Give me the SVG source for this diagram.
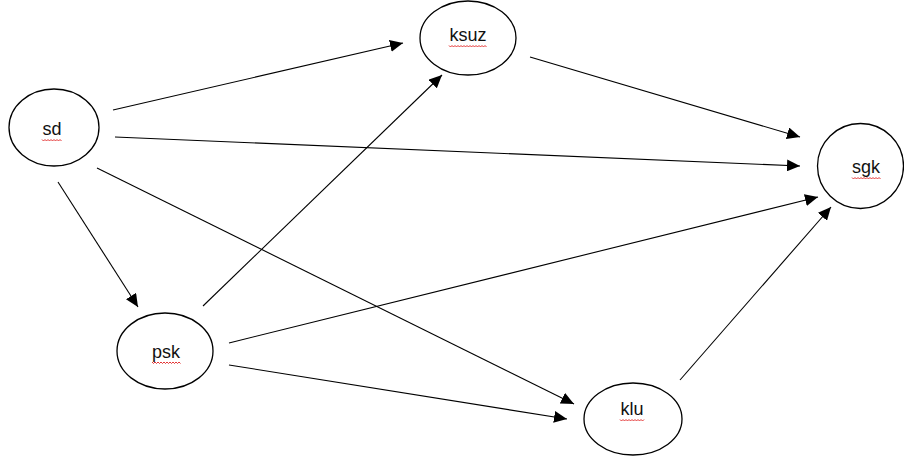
<svg xmlns="http://www.w3.org/2000/svg" width="904" height="462" viewBox="0 0 904 462">
<style>
.node ellipse{fill:#fff;stroke:#000;stroke-width:1.3}
.node text{font-family:"Liberation Sans",Arial,sans-serif;font-size:18px;fill:#111;text-anchor:middle}
.sq{fill:none;stroke:#e02020;stroke-width:0.9}
#edges line{stroke:#000;stroke-width:1.1}
</style>
<defs>
<marker id="ah" markerUnits="userSpaceOnUse" markerWidth="14" markerHeight="12" refX="13" refY="6" orient="auto">
<path d="M0,0 L13,6 L0,12 Z" fill="#000"/>
</marker>
</defs>
<rect width="904" height="462" fill="#fff"/>
<g id="edges">
<line x1="113" y1="110" x2="403" y2="43" marker-end="url(#ah)"/>
<line x1="115" y1="137" x2="800" y2="166" marker-end="url(#ah)"/>
<line x1="97" y1="168" x2="574" y2="404" marker-end="url(#ah)"/>
<line x1="58" y1="182" x2="138" y2="307" marker-end="url(#ah)"/>
<line x1="203" y1="306" x2="442" y2="75" marker-end="url(#ah)"/>
<line x1="229" y1="343" x2="818" y2="197" marker-end="url(#ah)"/>
<line x1="229" y1="365" x2="567" y2="419" marker-end="url(#ah)"/>
<line x1="530" y1="57" x2="800" y2="137" marker-end="url(#ah)"/>
<line x1="680" y1="380" x2="831" y2="207" marker-end="url(#ah)"/>
</g>
<g id="sd" class="node">
<ellipse cx="54" cy="127.5" rx="45" ry="38.5"/>
<text x="52" y="135">sd</text>
<path class="sq" d="M42,139.5 l1.5,1.5 l1.5,-1.5 l1.5,1.5 l1.5,-1.5 l1.5,1.5 l1.5,-1.5 l1.5,1.5 l1.5,-1.5 l1.5,1.5 l1.5,-1.5 l1.5,1.5 l1.5,-1.5 l1.5,1.5"/>
</g>
<g id="ksuz" class="node">
<ellipse cx="468" cy="38" rx="48" ry="37"/>
<text x="468" y="41">ksuz</text>
<path class="sq" d="M449,45.5 l1.5,1.5 l1.5,-1.5 l1.5,1.5 l1.5,-1.5 l1.5,1.5 l1.5,-1.5 l1.5,1.5 l1.5,-1.5 l1.5,1.5 l1.5,-1.5 l1.5,1.5 l1.5,-1.5 l1.5,1.5 l1.5,-1.5 l1.5,1.5 l1.5,-1.5 l1.5,1.5 l1.5,-1.5 l1.5,1.5 l1.5,-1.5 l1.5,1.5 l1.5,-1.5 l1.5,1.5 l1.5,-1.5 l1.5,1.5"/>
</g>
<g id="sgk" class="node">
<ellipse cx="860.5" cy="166" rx="43" ry="42.5"/>
<text x="866" y="173">sgk</text>
<path class="sq" d="M852,177.5 l1.5,1.5 l1.5,-1.5 l1.5,1.5 l1.5,-1.5 l1.5,1.5 l1.5,-1.5 l1.5,1.5 l1.5,-1.5 l1.5,1.5 l1.5,-1.5 l1.5,1.5 l1.5,-1.5 l1.5,1.5 l1.5,-1.5 l1.5,1.5 l1.5,-1.5 l1.5,1.5 l1.5,-1.5 l1.5,1.5"/>
</g>
<g id="psk" class="node">
<ellipse cx="165" cy="351" rx="48" ry="38"/>
<text x="166" y="358">psk</text>
<path class="sq" d="M152,362 l1.5,1.5 l1.5,-1.5 l1.5,1.5 l1.5,-1.5 l1.5,1.5 l1.5,-1.5 l1.5,1.5 l1.5,-1.5 l1.5,1.5 l1.5,-1.5 l1.5,1.5 l1.5,-1.5 l1.5,1.5 l1.5,-1.5 l1.5,1.5 l1.5,-1.5 l1.5,1.5 l1.5,-1.5 l1.5,1.5"/>
</g>
<g id="klu" class="node">
<ellipse cx="633" cy="419" rx="49" ry="36"/>
<text x="632" y="415">klu</text>
<path class="sq" d="M620,419.5 l1.5,1.5 l1.5,-1.5 l1.5,1.5 l1.5,-1.5 l1.5,1.5 l1.5,-1.5 l1.5,1.5 l1.5,-1.5 l1.5,1.5 l1.5,-1.5 l1.5,1.5 l1.5,-1.5 l1.5,1.5 l1.5,-1.5 l1.5,1.5 l1.5,-1.5"/>
</g>
</svg>
